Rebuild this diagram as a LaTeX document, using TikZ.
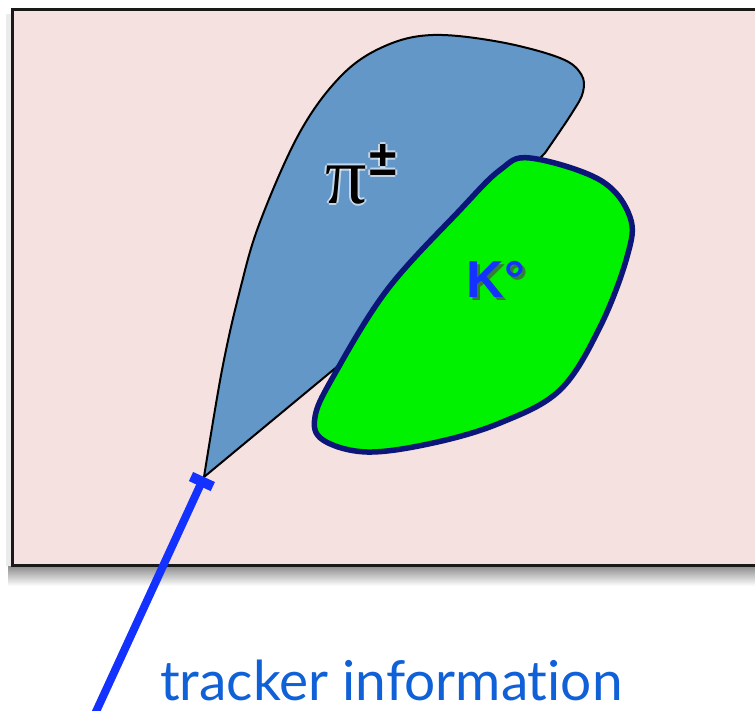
\documentclass[tikz,border=0pt]{standalone}
\usepackage{fontspec}
\newfontfamily\captionfont[Ligatures={NoCommon,NoRare}]{Lato}
\newfontfamily\labelfont{Liberation Sans}
\newfontfamily\greekfont{Liberation Serif}
\usetikzlibrary{arrows.meta, positioning}

\definecolor{panelpink}{RGB}{245,225,224}
\definecolor{pionblue}{RGB}{99,151,200}
\definecolor{kaongreen}{RGB}{0,242,0}
\definecolor{kaonedge}{RGB}{12,22,120}
\definecolor{trackblue}{RGB}{20,50,255}
\definecolor{textblue}{RGB}{16,96,216}

\begin{document}
\begin{tikzpicture}[
    x=1pt, y=-1pt,
    % Background panel
    panel/.style={draw=black!90, line width=3pt, fill=panelpink},
    % Particle regions
    pion/.style={draw=black, line width=2pt, fill=pionblue},
    kaon/.style={draw=kaonedge, line width=5.5pt, fill=kaongreen},
    % Track from the tracker
    track/.style={draw=trackblue, line width=8pt, -{Bar[width=24pt, line width=10pt]}},
    % Labels
    pilabel/.style={font=\greekfont\fontsize{82}{82}\selectfont, anchor=base},
    pmlabel/.style={font=\labelfont\bfseries\fontsize{50}{50}\selectfont, anchor=base},
    klabel/.style={font=\labelfont\bfseries\fontsize{52}{52}\selectfont, anchor=base west},
    caption/.style={font=\captionfont\fontsize{55}{55}\selectfont, text=textblue, anchor=base west, inner sep=0pt}
]
\useasboundingbox (0,0) rectangle (755,711);

% ================= Panel =================
\shade[top color=black!45, bottom color=white] (8,566) rectangle (770,586);
\fill[black!8] (6,14) rectangle (12,566);
\draw[panel] (12,10) rectangle (770,565);

% ================= Regions =================
\coordinate (vertex) at (204,477);
\coordinate (trackend) at (94,716);

% pi region
\draw[pion] (vertex)
  -- plot[smooth, tension=0.6] coordinates {(204,477) (222,370) (240,290) (260,222) (300,132) (342,75) (385,46) (433,35) (500,42) (560,58) (581,74) (583,92) (572,113) (545,153)}
  -- (350,356) -- cycle;

% K0 region
\draw[kaon] plot[smooth cycle, tension=0.6] coordinates {(530,158) (600,180) (630,217) (627,257) (600,327) (560,390) (500,423) (433,443) (367,452) (323,440) (315,417) (333,377) (387,290) (460,210) (500,170)};

% ================= Labels =================
\foreach \dx/\dy in {-2/0, 2/0, 0/-2, 0/2}{
  \node[pilabel, text=white, opacity=0.6] at (346+\dx,204+\dy) {π};
  \node[pmlabel, text=white, opacity=0.6] at (383+\dx,176+\dy) {±};
}
\node[pilabel] (pion) at (346,204) {π};
\node[pmlabel] (charge) at (383,176) {±};

\node[klabel, text=black!70, opacity=0.7] at (466,301) {K°};
\node[klabel, text=trackblue] (kaon) at (463,298) {K°};

% ================= Track =================
\draw[track] (trackend) -- (vertex);
\node[caption] (tracker) at (160,700) {tracker information};

\end{tikzpicture}
\end{document}
